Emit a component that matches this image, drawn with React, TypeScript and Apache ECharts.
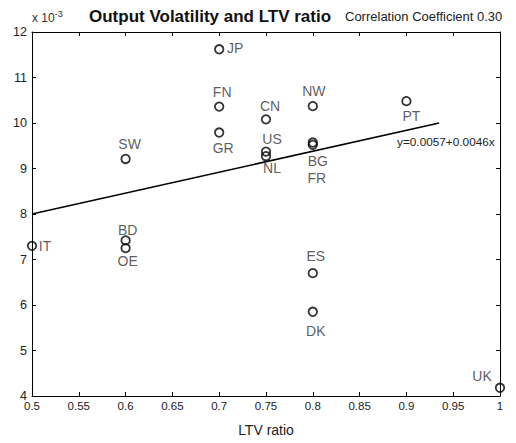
import React, { useEffect, useRef } from "react";
import * as echarts from "echarts";

const countries = ["IT", "SW", "BD", "OE", "JP", "FN", "GR", "CN", "US", "NL", "NW", "BG", "FR", "ES", "DK", "PT", "UK"];
const ltvRatio = [0.5, 0.6, 0.6, 0.6, 0.7, 0.7, 0.7, 0.75, 0.75, 0.75, 0.8, 0.8, 0.8, 0.8, 0.8, 0.9, 1.0];
const volatility = [7.3, 9.21, 7.42, 7.25, 11.62, 10.36, 9.79, 10.08, 9.37, 9.27, 10.37, 9.57, 9.52, 6.7, 5.85, 10.48, 4.18];
const fitX = [0.5, 0.935];
const fitY = [8.0, 10.0];
const xTicks = [0.5, 0.55, 0.6, 0.65, 0.7, 0.75, 0.8, 0.85, 0.9, 0.95, 1];
const yTicks = [4, 5, 6, 7, 8, 9, 10, 11, 12];
const titleText = "Output Volatility and LTV ratio";
const corrText = "Correlation Coefficient 0.30";
const eqText = "y=0.0057+0.0046x";

// label offsets (styling, px) relative to marker centre
const labelOffsets: Record<string, [number, number]> = {
  IT: [13, 0], SW: [4, -15], BD: [2, -10], OE: [2, 13], JP: [16, -1],
  FN: [3, -15], GR: [4, 15], CN: [4, -13], US: [6, -13], NL: [6, 12],
  NW: [1, -15], BG: [5, 18], FR: [4, 33], ES: [3, -17], DK: [3, 19],
  PT: [5, 15], UK: [-18, -12],
};

const FONT = "Liberation Sans, Arial, Helvetica, sans-serif";

export default function App() {
  const ref = useRef<HTMLDivElement>(null);
  useEffect(() => {
    if (!ref.current) return;
    const chart = echarts.init(ref.current, null, { renderer: "svg" });
    const fmtX = (v: number) => {
      const t = xTicks.find((x) => Math.abs(x - v) < 1e-6);
      return t === undefined ? "" : String(t);
    };
    const fmtY = (v: number) => {
      const t = yTicks.find((y) => Math.abs(y - v) < 1e-6);
      return t === undefined ? "" : String(t);
    };
    const axisCommon = {
      axisLine: { show: true, onZero: false, lineStyle: { color: "#000", width: 1 } },
      axisTick: { show: true, inside: true, length: 4, lineStyle: { color: "#000" } },
      splitLine: { show: false },
    };
    chart.setOption({
      animation: false,
      backgroundColor: "#fff",
      grid: { left: 32, right: 16, top: 32, bottom: 47, containLabel: false },
      xAxis: [
        {
          type: "value", min: 0.5, max: 1, interval: 0.05, position: "bottom",
          ...axisCommon,
          axisLabel: { formatter: fmtX, color: "#222", fontSize: 11.5, fontFamily: FONT, margin: 4 },
          name: "LTV ratio", nameLocation: "middle", nameGap: 27,
          nameTextStyle: { color: "#222", fontSize: 14, fontFamily: FONT },
        },
        {
          type: "value", min: 0.5, max: 1, interval: 0.05, position: "top",
          ...axisCommon, axisLabel: { show: false },
        },
      ],
      yAxis: [
        {
          type: "value", min: 4, max: 12, interval: 1, position: "left",
          ...axisCommon,
          axisLabel: { formatter: fmtY, color: "#222", fontSize: 12.5, fontFamily: FONT, margin: 5 },
        },
        {
          type: "value", min: 4, max: 12, interval: 1, position: "right",
          ...axisCommon, axisLabel: { show: false },
        },
      ],
      series: [
        {
          type: "line",
          data: fitX.map((x, i) => [x, fitY[i]]),
          symbol: "none",
          lineStyle: { color: "#000", width: 1.5 },
          silent: true,
          z: 3,
        },
        {
          type: "scatter",
          symbol: "circle",
          symbolSize: 8.5,
          itemStyle: { color: "transparent", borderColor: "#000", borderWidth: 1.8 },
          data: countries.map((c, i) => ({
            value: [ltvRatio[i], volatility[i]],
            label: {
              show: true,
              formatter: c,
              position: "inside",
              offset: labelOffsets[c],
              color: "#333",
              fontSize: 14,
              fontFamily: FONT,
            },
          })),
          z: 2,
        },
      ],
      graphic: [
        {
          type: "text", left: 89, top: 8,
          style: { text: titleText, font: `bold 17px ${FONT}`, fill: "#111" },
        },
        {
          type: "text", left: 345, top: 10,
          style: { text: corrText, font: `13px ${FONT}`, fill: "#222" },
        },
        {
          type: "text", left: 32, top: 9,
          style: {
            text: "x 10{s|-3}",
            font: `12px ${FONT}`,
            fill: "#333",
            rich: { s: { fontSize: 9, fontFamily: FONT, verticalAlign: "top", padding: [0, 0, 8, 0], fill: "#333" } },
          },
        },
        {
          type: "text", left: 397, top: 136,
          style: { text: eqText, font: `11.8px ${FONT}`, fill: "#222" },
        },
      ],
    });
    return () => chart.dispose();
  }, []);
  return <div ref={ref} style={{ width: 516, height: 443, margin: -8 }} />;
}
